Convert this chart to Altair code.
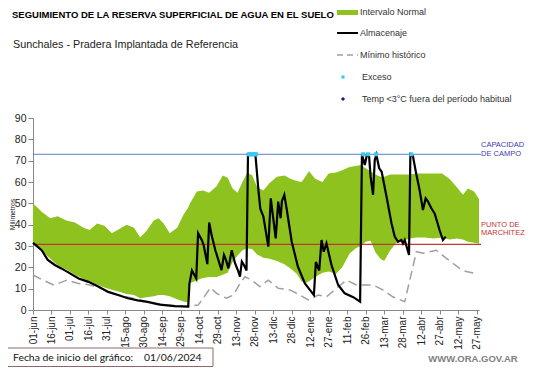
import json
import altair as alt
import pandas as pd

# ---------------- data ----------------
tick_labels = ["01-jun", "16-jun", "01-jul", "16-jul", "31-jul", "15-ago", "30-ago",
               "14-sep", "29-sep", "14-oct", "29-oct", "13-nov", "28-nov", "13-dic",
               "28-dic", "12-ene", "27-ene", "11-feb", "26-feb", "13-mar", "28-mar",
               "12-abr", "27-abr", "12-may", "27-may"]

# Intervalo normal (day index since 01-jun-2024)
band_days = [0, 7, 14, 20, 27, 34, 41, 46, 52, 58, 64, 70, 76, 82, 87, 92, 98, 102, 106,
             111, 117, 122, 126, 127.5, 133, 138, 143, 149, 154, 158, 162, 166, 170, 174,
             178, 182, 187, 192, 198, 204, 209, 214, 218, 221, 224, 229, 235, 240, 246,
             251, 257, 262, 266, 270, 274, 278, 282, 285, 290, 295, 300, 306, 311, 318,
             325, 332, 338, 344, 349, 353, 358, 362]
band_low = [31, 28, 24, 21, 19, 16.5, 14.5, 13.5, 12, 10.5, 9.5, 8.5, 7.5, 7, 5.5, 6, 6.5,
            7, 7, 6.5, 5, 4, 3.5, 12.5, 14, 15, 15.5, 15.5, 16.5, 17.5, 22.5, 25.5, 28, 29,
            28.5, 26, 24.5, 24, 23, 21.5, 19.5, 17, 13.5, 12.5, 13.5, 15.5, 17.5, 18, 17,
            20, 26.5, 29, 30, 32, 32.5, 27, 24, 23, 28, 31.5, 32.5, 33.5, 34, 34, 33.5, 34,
            33, 33.5, 33, 32, 31.5, 31]
band_high = [50, 46, 43, 44, 42, 41, 38.5, 37.5, 40.5, 39.5, 36, 38, 40, 38.5, 34, 37, 42,
             43, 40.5, 36, 38.5, 44.5, 48, 50, 55.5, 56, 55, 58, 63, 62, 57, 55, 60, 64.5,
             63, 57.5, 56, 59.5, 62.5, 63, 61.5, 60.5, 60, 62.5, 65, 61.5, 60, 64, 64.5,
             65.5, 67, 67.5, 68, 66.5, 65, 63.5, 62.5, 62.5, 63.5, 63.5, 63.5, 63.5, 64,
             64, 64, 64, 61.5, 57.5, 54, 57, 55.5, 52]

# Almacenaje
alm_days = [0, 7, 12, 18, 23, 29, 37, 45, 53, 61, 69, 77, 85, 93, 103, 115, 126, 127,
            129, 131, 132.5, 134, 137, 138.5, 141.5, 143, 145, 148, 150.5, 153, 155,
            156.7, 158.6, 161.3, 164, 166.7, 168, 169.5, 171.3, 173.3, 174.5, 180.5, 183,
            184.5, 187, 191, 193, 195, 197, 199, 201, 202, 204, 206, 210, 215, 220.7, 228,
            229.6, 232.3, 234.2, 236, 238.2, 242.3, 247.7, 253, 260, 265.5, 267, 269.3,
            271, 272.8, 274, 276, 277.4, 278.7, 281, 283, 287, 291, 293.6, 296.3, 299,
            300.3, 301.7, 305.2, 306.3, 308.4, 311, 313.8, 316.5, 318.7, 320.6, 323.3,
            326, 330, 332.7, 335]
alm_vals = [31.5, 28, 23.5, 21, 19.5, 17.5, 14.8, 13.2, 11, 8.5, 7, 5.5, 4.5, 3.8, 2.5,
            1.8, 1.6, 12.5, 18.5, 16.4, 14.8, 36, 32.8, 30.5, 21.5, 41, 35, 28, 23.4,
            18.7, 25.8, 23.4, 19.5, 28, 21.9, 18, 15.6, 22.7, 21, 18.5, 73, 73, 56, 47.5,
            43.8, 29.7, 52.3, 43, 33.6, 50.8, 43, 51, 54, 47, 32, 20.3, 12.5, 7, 22.5,
            18.5, 32.8, 27.3, 31.2, 21, 11.7, 7.8, 6, 3.9, 73, 68, 72.7, 72, 62.5, 54,
            70.3, 72.7, 66.4, 64.8, 53, 40.6, 34.4, 32, 32.8, 31.2, 32.8, 25.8, 73, 72,
            64, 56.2, 46.9, 52.3, 50.8, 47.7, 45.3, 37.5, 32.8, 34.4]

# Minimo historico
min_days = [0, 8, 17, 27.5, 36, 44, 55, 65, 76, 87, 98, 109, 125, 134, 140, 144, 149,
            157, 162.6, 168, 172, 177.5, 184, 191, 199, 208.5, 216.6, 223.4, 231.5,
            238.2, 246.3, 254.4, 262.5, 276, 284, 292, 301.7, 311.2, 316.6, 327.4, 335.5,
            346.3, 351.7, 358.4]
min_vals = [16.4, 14, 11.7, 14, 12.5, 12, 10.2, 7.8, 6.2, 4.7, 3.1, 2.3, 1.6, 2.3, 7,
            10.5, 7.8, 5.5, 7, 12.5, 15.6, 14, 11, 14, 10.2, 9.4, 7, 4.7, 7, 6.2, 10.2,
            14, 11.7, 11.7, 9.4, 6.2, 3.9, 27.3, 26.6, 28, 24.2, 19.5, 18, 17.2]

# Exceso
exc_days = [175, 176, 177, 178, 179, 180, 181, 268, 272, 278.5, 307]
exc_vals = [73, 73, 73, 73, 73, 73, 73, 73, 73, 73, 73]

capacidad_campo = 73
punto_marchitez = 30.8

# ---------------- styling ----------------
W, H = 446, 192
X_MAX = 362
GREEN = "#8dc21f"
FONT = "Liberation Sans"

xs = alt.Scale(domain=[0, X_MAX], nice=False, zero=False)
ys = alt.Scale(domain=[0, 90], nice=False)

xaxis = alt.Axis(values=list(range(0, 361, 15)),
                 labelExpr=json.dumps(tick_labels) + "[round(datum.value/15)]",
                 labelAngle=270, labelFontSize=10, labelFont=FONT, labelColor="#222",
                 labelPadding=2, tickSize=4, title=None, grid=False,
                 domainColor="#888", tickColor="#888")
yaxis = alt.Axis(values=list(range(0, 91, 10)), title="Milímetros", titleFont=FONT,
                 titleFontSize=6.8, titleFontWeight="normal", titleColor="#222",
                 titleX=-20.5, titleY=H / 2, titleAngle=270, titleAlign="center",
                 titleBaseline="middle",
                 labelFontSize=10.5, labelFont=FONT, labelColor="#222",
                 labelPadding=2, tickSize=5, grid=False, domainColor="#888",
                 tickColor="#888")

band_df = pd.DataFrame({"day": band_days, "low": band_low, "high": band_high})
alm_df = pd.DataFrame({"day": alm_days, "val": alm_vals})
min_df = pd.DataFrame({"day": min_days, "val": min_vals})
exc_df = pd.DataFrame({"day": exc_days, "val": exc_vals})
ref_df = pd.DataFrame({"cc": [capacidad_campo], "pm": [punto_marchitez]})
one = pd.DataFrame({"k": [0]})


def X(field):
    return alt.X(field, scale=xs, axis=xaxis)


def Y(field):
    return alt.Y(field, scale=ys, axis=yaxis)


band = alt.Chart(band_df).mark_area(color=GREEN, opacity=1).encode(
    x=X("day:Q"), y=Y("low:Q"), y2="high:Q")

cc_rule = alt.Chart(ref_df).mark_rule(color="#5a7fc6", strokeWidth=1).encode(
    y=Y("cc:Q"), x=alt.value(0), x2=alt.value(W + 2))
pm_rule = alt.Chart(ref_df).mark_rule(color="#c0392b", strokeWidth=1.2).encode(
    y=Y("pm:Q"), x=alt.value(0), x2=alt.value(W + 2))

min_line = alt.Chart(min_df).mark_line(color="#a0a0a0", strokeWidth=1.5,
                                       strokeDash=[9, 5]).encode(
    x=X("day:Q"), y=Y("val:Q"))

alm_line = alt.Chart(alm_df).mark_line(color="#000000", strokeWidth=2.2).encode(
    x=X("day:Q"), y=Y("val:Q"))

exc_pts = alt.Chart(exc_df).mark_square(color="#3cc8f0", size=16, opacity=1).encode(
    x=X("day:Q"), y=Y("val:Q"))


def txt(t, x, y, size, color="#222", weight="normal", font=FONT, align="left"):
    return alt.Chart(one).mark_text(text=t, align=align, baseline="middle",
                                    fontSize=size, color=color, fontWeight=weight,
                                    font=font).encode(x=alt.value(x), y=alt.value(y))


OX, OY = 33, 118  # page position of the plot origin


def P(x, y):
    return x - OX, y - OY


layers = [band, cc_rule, pm_rule, min_line, alm_line, exc_pts]

# titles
layers.append(txt("SEGUIMIENTO DE LA RESERVA SUPERFICIAL DE AGUA EN EL SUELO",
                  *P(12, 15), 9.5, color="#000", weight="bold"))
layers.append(txt("Sunchales  - Pradera Implantada  de Referencia", *P(13, 45), 10.8))

# legend
lx0, lx1 = P(337, 0)[0], P(358, 0)[0]
layers.append(alt.Chart(one).mark_rect(color=GREEN).encode(
    x=alt.value(lx0), x2=alt.value(lx1), y=alt.value(P(0, 10)[1]), y2=alt.value(P(0, 15)[1])))
layers.append(alt.Chart(one).mark_rule(color="#000", strokeWidth=2).encode(
    x=alt.value(lx0), x2=alt.value(lx1), y=alt.value(P(0, 33)[1])))
layers.append(alt.Chart(one).mark_rule(color="#a0a0a0", strokeWidth=1.5,
                                       strokeDash=[6, 4]).encode(
    x=alt.value(lx0), x2=alt.value(lx1), y=alt.value(P(0, 55)[1])))
layers.append(alt.Chart(one).mark_square(color="#3cc8f0", size=10, opacity=1).encode(
    x=alt.value(P(343, 0)[0]), y=alt.value(P(0, 77)[1])))
layers.append(alt.Chart(one).mark_point(shape="diamond", filled=True, color="#1a1a8c",
                                        size=18, opacity=1).encode(
    x=alt.value(P(343, 0)[0]), y=alt.value(P(0, 99)[1])))
leg_x = P(360, 0)[0]
for label, yy in [("Intervalo Normal", 12), ("Almacenaje", 33), ("Mínimo histórico", 55),
                  ("Exceso", 77), ("Temp <3°C fuera del período habitual", 99)]:
    layers.append(txt(label, leg_x + (2 if yy > 60 else 0), P(0, yy)[1], 9, color="#333"))

# right-side labels
layers.append(txt("CAPACIDAD", *P(481, 145), 7.5, color="#3c3cb4"))
layers.append(txt("DE  CAMPO", *P(481, 154), 7.5, color="#3c3cb4"))
layers.append(txt("PUNTO  DE", *P(481, 225), 7.5, color="#c83232"))
layers.append(txt("MARCHITEZ", *P(481, 233), 7.5, color="#c83232"))

# bottom box
bx0, by0 = P(7, 348)
bx1, by1 = P(213, 366.5)
layers.append(alt.Chart(one).mark_rect(fill="#ffffff", stroke="#8a6a6a",
                                       strokeWidth=1).encode(
    x=alt.value(bx0), x2=alt.value(bx1), y=alt.value(by0), y2=alt.value(by1)))
layers.append(txt("Fecha de inicio del gráfico:", *P(13, 358), 10.4, color="#111",
                  font="Lato"))
layers.append(txt("01/06/2024", *P(144, 358), 10.4, color="#111", font="Lato"))
layers.append(txt("WWW.ORA.GOV.AR", *P(473, 359), 9.5, color="#808080", weight="bold",
                  align="center"))

chart = alt.layer(*layers).properties(
    width=W, height=H,
    autosize=alt.AutoSizeParams(type="none"),
    padding={"left": OX - 8, "top": OY - 8, "right": 50, "bottom": 58},
).configure_view(stroke=None)

chart.save("out.html", embed_options={"renderer": "svg", "actions": False})
